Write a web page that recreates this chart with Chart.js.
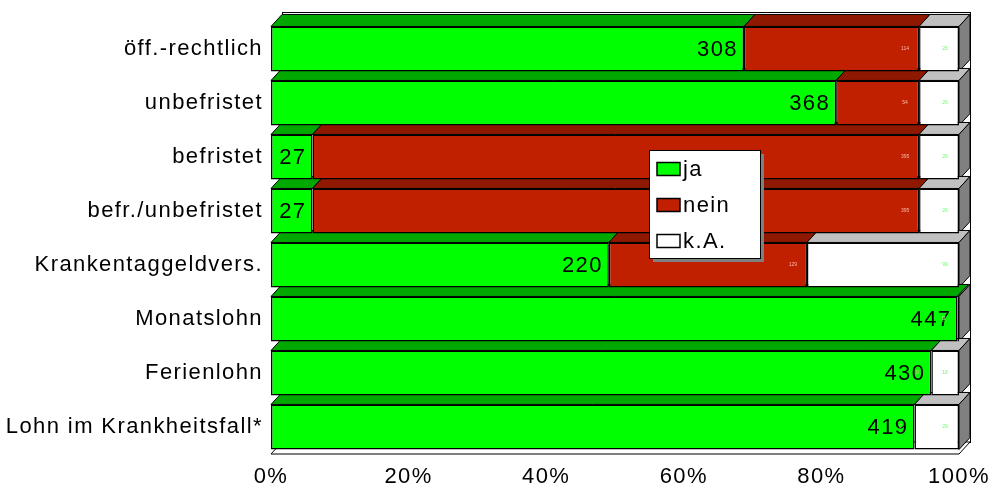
<!DOCTYPE html>
<html>
<head>
<meta charset="utf-8">
<script src="https://cdn.jsdelivr.net/npm/chart.js@4"></script>
<style>
html,body{margin:0;padding:0;background:#fff;}
#wrap{width:994px;height:489px;}
</style>
</head>
<body>
<div id="wrap"><canvas id="c" width="994" height="489"></canvas></div>
<script>
const categories = ["öff.-rechtlich","unbefristet","befristet","befr./unbefristet","Krankentaggeldvers.","Monatslohn","Ferienlohn","Lohn im Krankheitsfall*"];
const jaValues   = [308, 368, 27, 27, 220, 447, 430, 419];
const neinValues = [114, 54, 395, 395, 129, 0, 0, 0];
const kaValues   = [26, 26, 26, 26, 99, 1, 18, 29];
const seriesNames = ["ja","nein","k.A."];
const tickLabels = ["0%","20%","40%","60%","80%","100%"];

const FRONT = ["#00FF00","#C02000","#FFFFFF"];
const TOP   = ["#00A800","#8E1800","#C0C0C0"];
const SIDE  = "#808080";
const DX = 11, DY = 12;
const FONT = "'Liberation Sans', Arial, sans-serif";
const SPACING = '1.4px';

const totals = categories.map((_, i) => jaValues[i] + neinValues[i] + kaValues[i]);
const pct = arr => arr.map((v, i) => v / totals[i] * 100);
const rawSeries = [jaValues, neinValues, kaValues];

function setSpacing(ctx, s){ if ('letterSpacing' in ctx) ctx.letterSpacing = s; }

const depthPlugin = {
  id: 'depth',
  beforeLayout(chart){ setSpacing(chart.ctx, SPACING); },
  beforeDraw(chart){ setSpacing(chart.ctx, SPACING); },
  beforeDatasetsDraw(chart){
    const ctx = chart.ctx;
    const a = chart.chartArea;
    ctx.save();
    ctx.lineWidth = 1;
    ctx.strokeStyle = '#000';
    ctx.fillStyle = '#fff';
    ctx.fillRect(a.left + DX, a.top - 10, a.right - a.left, a.bottom - a.top - DY + 10);
    ctx.strokeRect(a.left + DX + 0.5, a.top - 9.5, a.right - a.left, a.bottom - a.top - DY + 10);
    ctx.beginPath();
    ctx.moveTo(a.left, a.bottom); ctx.lineTo(a.right, a.bottom);
    ctx.lineTo(a.right + DX, a.bottom - DY); ctx.lineTo(a.left + DX, a.bottom - DY);
    ctx.closePath(); ctx.fill(); ctx.stroke();
    const metas = [0,1,2].map(i => chart.getDatasetMeta(i));
    const n = categories.length;
    for (let j = 0; j < n; j++) {
      let lastIdx = -1;
      for (let i = 0; i < 3; i++) {
        const el = metas[i].data[j];
        const x0 = Math.min(el.base, el.x), x1 = Math.max(el.base, el.x);
        if (x1 - x0 < 0.2) continue;
        lastIdx = i;
        const top = el.y - el.height / 2;
        ctx.beginPath();
        ctx.moveTo(x0, top); ctx.lineTo(x0 + DX, top - DY);
        ctx.lineTo(x1 + DX, top - DY); ctx.lineTo(x1, top);
        ctx.closePath();
        ctx.fillStyle = TOP[i]; ctx.fill(); ctx.stroke();
      }
      if (lastIdx >= 0) {
        const el = metas[lastIdx].data[j];
        const x1 = Math.max(el.base, el.x);
        const top = el.y - el.height / 2, bot = el.y + el.height / 2;
        ctx.beginPath();
        ctx.moveTo(x1, top); ctx.lineTo(x1 + DX, top - DY);
        ctx.lineTo(x1 + DX, bot - DY); ctx.lineTo(x1, bot);
        ctx.closePath();
        ctx.fillStyle = SIDE; ctx.fill(); ctx.stroke();
      }
    }
    ctx.restore();
  },
  afterDatasetsDraw(chart){
    const ctx = chart.ctx;
    ctx.save();
    ctx.textBaseline = 'middle';
    const n = categories.length;
    for (let j = 0; j < n; j++) {
      const e0 = chart.getDatasetMeta(0).data[j];
      setSpacing(ctx, SPACING);
      ctx.font = '22px ' + FONT;
      ctx.fillStyle = '#000';
      ctx.textAlign = 'right';
      ctx.fillText(String(jaValues[j]), e0.x - 6, e0.y + 1);
      setSpacing(ctx, '0px');
      ctx.font = '5px ' + FONT;
      ctx.textAlign = 'center';
      const e1 = chart.getDatasetMeta(1).data[j];
      ctx.fillStyle = '#FFB8A8';
      ctx.fillText(String(neinValues[j]), Math.max(e1.x, e1.base) - 14, e1.y);
      const e2 = chart.getDatasetMeta(2).data[j];
      ctx.fillStyle = '#66FF66';
      ctx.fillText(String(kaValues[j]), Math.max(e2.x, e2.base) - 14, e2.y);
    }
    ctx.restore();
  },
  afterDraw(chart){
    const ctx = chart.ctx;
    ctx.save();
    const bx = 649, by = 150, bw = 111, bh = 108;
    ctx.fillStyle = '#808080';
    ctx.fillRect(bx + 4, by + 4, bw, bh);
    ctx.fillStyle = '#fff';
    ctx.fillRect(bx, by, bw, bh);
    ctx.strokeStyle = '#000'; ctx.lineWidth = 1;
    ctx.strokeRect(bx + 0.5, by + 0.5, bw, bh);
    setSpacing(ctx, SPACING);
    ctx.font = '22px ' + FONT;
    ctx.textAlign = 'left';
    ctx.textBaseline = 'middle';
    for (let i = 0; i < 3; i++) {
      const cy = 169 + i * 36;
      ctx.fillStyle = FRONT[i];
      ctx.fillRect(657, cy - 6.5, 23, 13);
      ctx.lineWidth = 1.5;
      ctx.strokeStyle = '#000';
      ctx.strokeRect(657, cy - 6.5, 23, 13);
      ctx.fillStyle = '#000';
      ctx.fillText(seriesNames[i], 683, cy + 1);
    }
    ctx.restore();
  }
};

new Chart(document.getElementById('c'), {
  type: 'bar',
  data: {
    labels: categories,
    datasets: rawSeries.map((arr, i) => ({
      label: seriesNames[i],
      data: pct(arr),
      backgroundColor: FRONT[i],
      borderColor: '#000',
      borderWidth: 1.5,
      borderSkipped: false,
      barPercentage: 0.835,
      categoryPercentage: 1
    }))
  },
  options: {
    indexAxis: 'y',
    responsive: false,
    animation: false,
    devicePixelRatio: 1,
    layout: { padding: { top: 22, right: 0, left: 0, bottom: 0 } },
    plugins: { legend: { display: false }, tooltip: { enabled: false } },
    scales: {
      x: {
        stacked: true, min: 0, max: 100,
        grid: { display: false },
        border: { display: false },
        ticks: {
          stepSize: 20, color: '#000', padding: 2,
          font: { size: 22, family: FONT },
          maxRotation: 0,
          callback: (v) => tickLabels[Math.round(v / 20)]
        },
        afterFit(s){ s.height = 35; s.paddingRight = 35; s.paddingLeft = 0; }
      },
      y: {
        stacked: true,
        grid: { display: false },
        border: { display: false },
        ticks: { color: '#000', padding: 0, font: { size: 22, family: FONT } },
        afterFit(s){ s.width = 271; }
      }
    }
  },
  plugins: [depthPlugin]
});
</script>
</body>
</html>
